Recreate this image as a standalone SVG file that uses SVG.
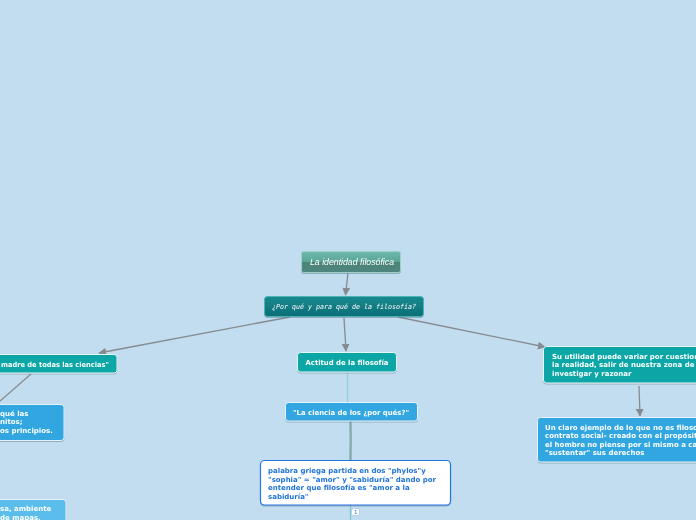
<svg xmlns="http://www.w3.org/2000/svg" width="696" height="520" viewBox="0 0 696 520">
<defs>
<linearGradient id="gRoot" x1="0" y1="0" x2="0" y2="1">
<stop offset="0" stop-color="#6fb9ac"/><stop offset="0.5" stop-color="#5aa597"/><stop offset="0.5" stop-color="#4b8378"/><stop offset="1" stop-color="#4f877c"/>
</linearGradient>
<linearGradient id="gMain" x1="0" y1="0" x2="0" y2="1">
<stop offset="0" stop-color="#168a90"/><stop offset="1" stop-color="#0e6e76"/>
</linearGradient>
<marker id="arr" viewBox="0 0 10 10" refX="9" refY="5" markerWidth="8" markerHeight="8" markerUnits="userSpaceOnUse" orient="auto">
<path d="M0,0 L10,5 L0,10 z" fill="#858b90"/>
</marker>
<filter id="sh" x="-10%" y="-10%" width="120%" height="140%">
<feDropShadow dx="0" dy="1" stdDeviation="0.6" flood-color="#5a7a90" flood-opacity="0.5"/>
</filter>
</defs>
<style>
.bg{fill:#c2ddf0}
.teal{fill:#0aa6a6;stroke:#e6f6f6;stroke-width:1}
.blue{fill:#30a6e0;stroke:#e6f3fb;stroke-width:1}
.lblue{fill:#5abdeb;stroke:#e6f3fb;stroke-width:1}
.t{font-family:"DejaVu Sans",Verdana,sans-serif;font-weight:bold;font-size:7px;fill:#ffffff}
.tb{font-family:"DejaVu Sans",Verdana,sans-serif;font-weight:bold;font-size:7px;fill:#1e73d8}
.con{fill:none;stroke:#858b90;stroke-width:1.3}
</style>
<rect class="bg" x="0" y="0" width="696" height="520"/>

<g id="connectors">
<line class="con" x1="348" y1="273" x2="345.5" y2="295" marker-end="url(#arr)"/>
<line class="con" x1="290" y1="317" x2="99" y2="353" marker-end="url(#arr)"/>
<line class="con" x1="344" y1="318" x2="346" y2="351" marker-end="url(#arr)"/>
<line class="con" x1="398" y1="317" x2="545" y2="347" marker-end="url(#arr)"/>
<line class="con" x1="639" y1="386" x2="640" y2="416" marker-end="url(#arr)"/>
<line class="con" x1="31" y1="374" x2="0" y2="401"/>
<line x1="347.5" y1="373" x2="347.5" y2="402" stroke="#8fd3cf" stroke-width="1.3"/>
<path d="M349.5,421 Q350,440 349.5,460" fill="none" stroke="#77c9c2" stroke-width="1"/>
<path d="M350.8,421 Q351.3,440 350.8,460" fill="none" stroke="#7d8b8e" stroke-width="1.2"/>
<line x1="350.5" y1="505" x2="350.5" y2="520" stroke="#77c9c2" stroke-width="1.2"/>
</g>

<g id="root" filter="url(#sh)">
<rect x="301.5" y="251.5" width="99" height="21" rx="2" fill="url(#gRoot)" stroke="#9fd0c6" stroke-width="1"/>
<text x="352" y="265" text-anchor="middle" font-family="'Liberation Sans',Arial,sans-serif" font-style="italic" font-size="8.5" fill="#ffffff" textLength="84" lengthAdjust="spacingAndGlyphs">La identidad filosófica</text>
</g>

<g id="main" filter="url(#sh)">
<rect x="264.5" y="296.5" width="159" height="20" rx="3" fill="url(#gMain)" stroke="#4fb3b3" stroke-width="1"/>
<text x="344" y="309" text-anchor="middle" font-family="'DejaVu Sans Mono',monospace" font-style="italic" font-size="7" fill="#ffffff" textLength="144" lengthAdjust="spacingAndGlyphs">¿Por qué y para qué de la filosofía?</text>
</g>

<g id="madre" filter="url(#sh)">
<rect class="teal" x="-6" y="354.5" width="123" height="18.5" rx="3"/>
<text class="t" x="1" y="366.5" textLength="108" lengthAdjust="spacingAndGlyphs">madre de todas las ciencias"</text>
</g>

<g id="actitud" filter="url(#sh)">
<rect class="teal" x="297.5" y="352.5" width="99" height="19.5" rx="3"/>
<text class="t" x="347" y="365" text-anchor="middle" textLength="83" lengthAdjust="spacingAndGlyphs">Actitud de la filosofía</text>
</g>

<g id="utilidad" filter="url(#sh)">
<rect class="teal" x="543.5" y="346.5" width="160" height="36.5" rx="3"/>
<text class="t" x="552" y="358.5">Su utilidad puede variar por cuestion</text>
<text class="t" x="552" y="367">la realidad, salir de nuestra zona de c</text>
<text class="t" x="552" y="375.5">investigar y razonar</text>
</g>

<g id="ejemplo" filter="url(#sh)">
<rect class="blue" x="537.5" y="417.5" width="166" height="44.5" rx="3"/>
<text class="t" x="545" y="429.5">Un claro ejemplo de lo que no es filoso</text>
<text class="t" x="545" y="438">contrato social- creado con el propósit</text>
<text class="t" x="545" y="446.5">el hombre no piense por si mismo a ca</text>
<text class="t" x="545" y="455">"sustentar" sus derechos</text>
</g>

<g id="principios" filter="url(#sh)">
<rect class="blue" x="-6" y="404.5" width="70" height="36" rx="3"/>
<text class="t" x="0" y="416">qué las</text>
<text class="t" x="0" y="424">nitos;</text>
<text class="t" x="0" y="432.5">os principios.</text>
</g>

<g id="mapas" filter="url(#sh)">
<rect class="lblue" x="-6" y="499.5" width="72" height="30" rx="3"/>
<text class="t" x="0" y="511">sa, ambiente</text>
<text class="t" x="0" y="519.5">de mapas.</text>
</g>

<g id="ciencia" filter="url(#sh)">
<rect class="blue" x="285.5" y="402.5" width="132" height="18.5" rx="3"/>
<text class="t" x="351" y="414.5" text-anchor="middle" textLength="116" lengthAdjust="spacingAndGlyphs">"La ciencia de los ¿por qués?"</text>
</g>

<g id="palabra" filter="url(#sh)">
<rect x="260.5" y="460.5" width="190" height="44.5" rx="4" fill="#ffffff" stroke="#2277e0" stroke-width="1.2"/>
<text class="tb" x="268" y="473">palabra griega partida en dos "phylos"y</text>
<text class="tb" x="268" y="481.5">"sophia" = "amor" y "sabiduría" dando por</text>
<text class="tb" x="268" y="490">entender que filosofía es "amor a la</text>
<text class="tb" x="268" y="498.5">sabiduría"</text>
</g>

<g id="badge">
<rect x="351.5" y="508.5" width="8" height="7" rx="1.5" fill="#ffffff" stroke="#9cc3e6" stroke-width="0.6"/>
<text x="355.5" y="514.3" text-anchor="middle" font-family="'DejaVu Sans',sans-serif" font-size="5.5" fill="#2277e0">1</text>
</g>
</svg>
